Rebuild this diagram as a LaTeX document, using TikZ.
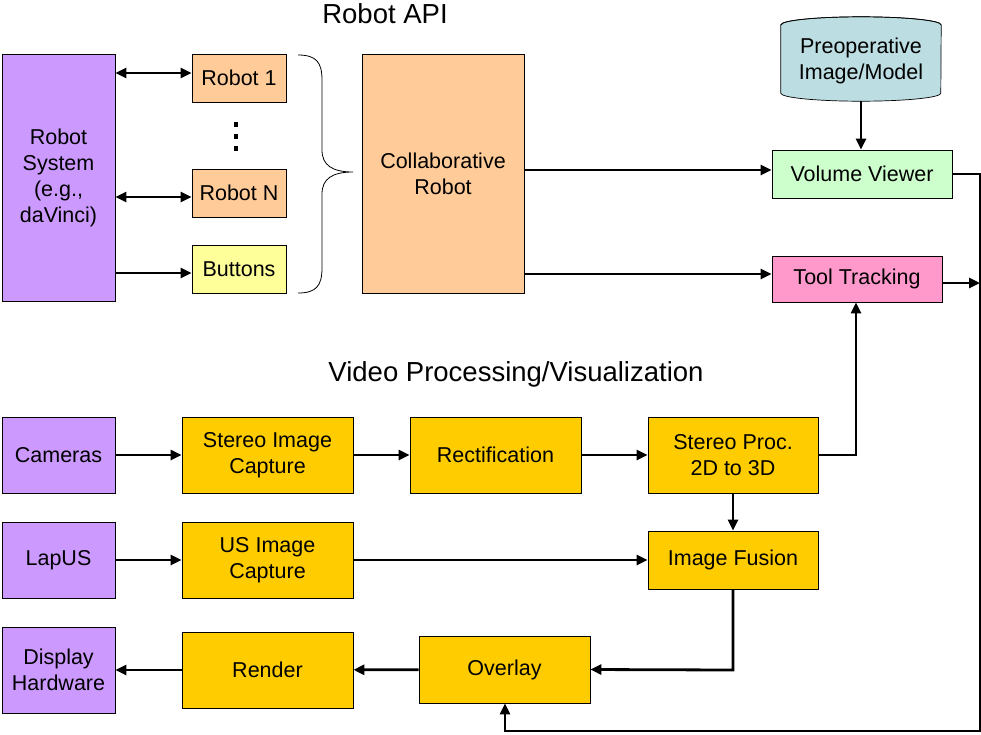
\documentclass[tikz,border=0pt]{standalone}
\usepackage{fontspec}
\setmainfont{Liberation Sans}
\usetikzlibrary{arrows.meta,calc}
\definecolor{cpurple}{HTML}{CC99FF}
\definecolor{cpeach}{HTML}{FFCC99}
\definecolor{cyellow}{HTML}{FFFF99}
\definecolor{cgold}{HTML}{FFCC00}
\definecolor{cgreen}{HTML}{CCFFCC}
\definecolor{cpink}{HTML}{FF99CC}
\definecolor{ccyl}{HTML}{BCDDE2}
\tikzset{
  box/.style={draw, line width=0.8pt, align=center, inner sep=0pt, font=\fontsize{21.5}{26}\selectfont},
  conn/.style={line width=2.8pt, -{Triangle[length=11pt,width=10pt]}},
  dconn/.style={line width=2.8pt, {Triangle[length=11pt,width=10pt]}-{Triangle[length=11pt,width=10pt]}},
  title/.style={font=\fontsize{27.5}{32}\selectfont}
}
\begin{document}
\begin{tikzpicture}[x=1pt,y=-1pt]
\useasboundingbox (0,0) rectangle (981,734);
% titles
\node[title] (tapi) at (385,14) {Robot API};
\node[title] (tvid) at (516,374) {Video Processing/Visualization};
% robot section
\node[box, fill=cpurple, minimum width=113pt, minimum height=247pt] (sys) at (58.5,177.5) {Robot\\System\\(e.g.,\\daVinci)};
\node[box, fill=cpeach, minimum width=94pt, minimum height=48pt] (r1) at (239,78) {Robot 1};
\node[box, fill=cpeach, minimum width=94pt, minimum height=48pt] (rN) at (239,193) {Robot N};
\node[box, fill=cyellow, minimum width=94pt, minimum height=48pt] (btn) at (239,269) {Buttons};
\foreach \yy in {127,139,151} \fill (233.5,\yy) rectangle (237.5,\yy-5);
\node[box, fill=cpeach, minimum width=162pt, minimum height=239pt] (collab) at (443,173.5) {Collaborative\\Robot};
% brace
\draw[line width=0.8pt] (298,55) .. controls (316,55) and (322,62) .. (322,80) -- (322,150)
  .. controls (322,165) and (332,172) .. (353,172)
  .. controls (332,172) and (322,179) .. (322,194) -- (322,268)
  .. controls (322,286) and (316,293) .. (298,293);
% cylinder
\node[minimum width=160pt, minimum height=84pt, inner sep=0pt] (pre) at (861,59) {};
\fill[ccyl, draw=black, line width=0.7pt] ($(pre.north west)+(0,8)$) -- ($(pre.south west)+(0,-8)$)
  arc[start angle=180, end angle=360, x radius=80pt, y radius=8pt] -- ($(pre.north east)+(0,8)$)
  arc[start angle=0, end angle=180, x radius=80pt, y radius=8pt] -- cycle;
\draw[line width=0.7pt] ($(pre.north west)+(0,8)$) arc[start angle=180, end angle=360, x radius=80pt, y radius=-8pt];
\node[align=center, inner sep=0pt, font=\fontsize{21.5}{26}\selectfont] (pretext) at ($(pre.center)+(0,2)$) {Preoperative\\Image/Model};
\node[box, fill=cgreen, minimum width=180pt, minimum height=48pt] (vv) at (862,174) {Volume Viewer};
\node[box, fill=cpink, minimum width=170pt, minimum height=46pt] (tt) at (857,279) {Tool Tracking};
% video section
\node[box, fill=cpurple, minimum width=113pt, minimum height=76pt] (cam) at (58.5,455) {Cameras};
\node[box, fill=cgold, minimum width=171pt, minimum height=76pt] (sic) at (267.5,455) {Stereo Image\\Capture};
\node[box, fill=cgold, minimum width=171pt, minimum height=76pt] (rect) at (495.5,455) {Rectification};
\node[box, fill=cgold, minimum width=170pt, minimum height=76pt] (spp) at (733,455) {Stereo Proc.\\2D to 3D};
\node[box, fill=cpurple, minimum width=113pt, minimum height=76pt] (lap) at (58.5,560) {LapUS};
\node[box, fill=cgold, minimum width=171pt, minimum height=76pt] (usc) at (267.5,560) {US Image\\Capture};
\node[box, fill=cgold, minimum width=170pt, minimum height=58pt] (fus) at (733,560) {Image Fusion};
\node[box, fill=cpurple, minimum width=113pt, minimum height=86pt] (disp) at (58.5,670) {Display\\Hardware};
\node[box, fill=cgold, minimum width=171pt, minimum height=76pt] (render) at (267.5,670) {Render};
\node[box, fill=cgold, minimum width=171pt, minimum height=67pt] (ovl) at (504.5,669.5) {Overlay};
% coordinates
\coordinate (rx1) at (980,174);
\coordinate (rx2) at (980,731);
\coordinate (rx3) at (505,731);
\coordinate (ttin) at (980,283);
\coordinate (sp1) at (856,455);
\coordinate (fu1) at (733,670);
% robot connectors
\draw[dconn] ([yshift=5pt]sys.east |- r1.west) -- ([yshift=5pt]r1.west);
\draw[dconn] ([yshift=-4pt]sys.east |- rN.west) -- ([yshift=-4pt]rN.west);
\draw[conn] ([yshift=-4pt]sys.east |- btn.west) -- ([yshift=-4pt]btn.west);
\draw[conn] ([yshift=4pt]collab.east |- vv.west) -- ([yshift=4pt]vv.west);
\draw[conn] ([yshift=5pt]collab.east |- tt.west) -- ([yshift=5pt]tt.west);
\draw[conn] (pre.south -| 861,0) -- (vv.north -| 861,0);
\draw[conn] (tt.east |- ttin) -- (ttin);
\draw[conn] (vv.east) -- (rx1) -- (rx2) -- (rx3) -- (ovl.south -| rx3);
% video connectors
\draw[conn] (cam) -- (sic);
\draw[conn] (sic) -- (rect);
\draw[conn] (rect) -- (spp);
\draw[conn] (spp.east) -- (sp1) -- (tt.south -| sp1);
\draw[conn] (spp) -- (fus);
\draw[conn] (lap) -- (usc);
\draw[conn] (usc) -- (fus);
\draw[conn] (fus.south) -- (fu1) -- (ovl.east);
\draw[conn] (ovl) -- (render);
\draw[conn] (render) -- (disp);
\end{tikzpicture}
\end{document}
